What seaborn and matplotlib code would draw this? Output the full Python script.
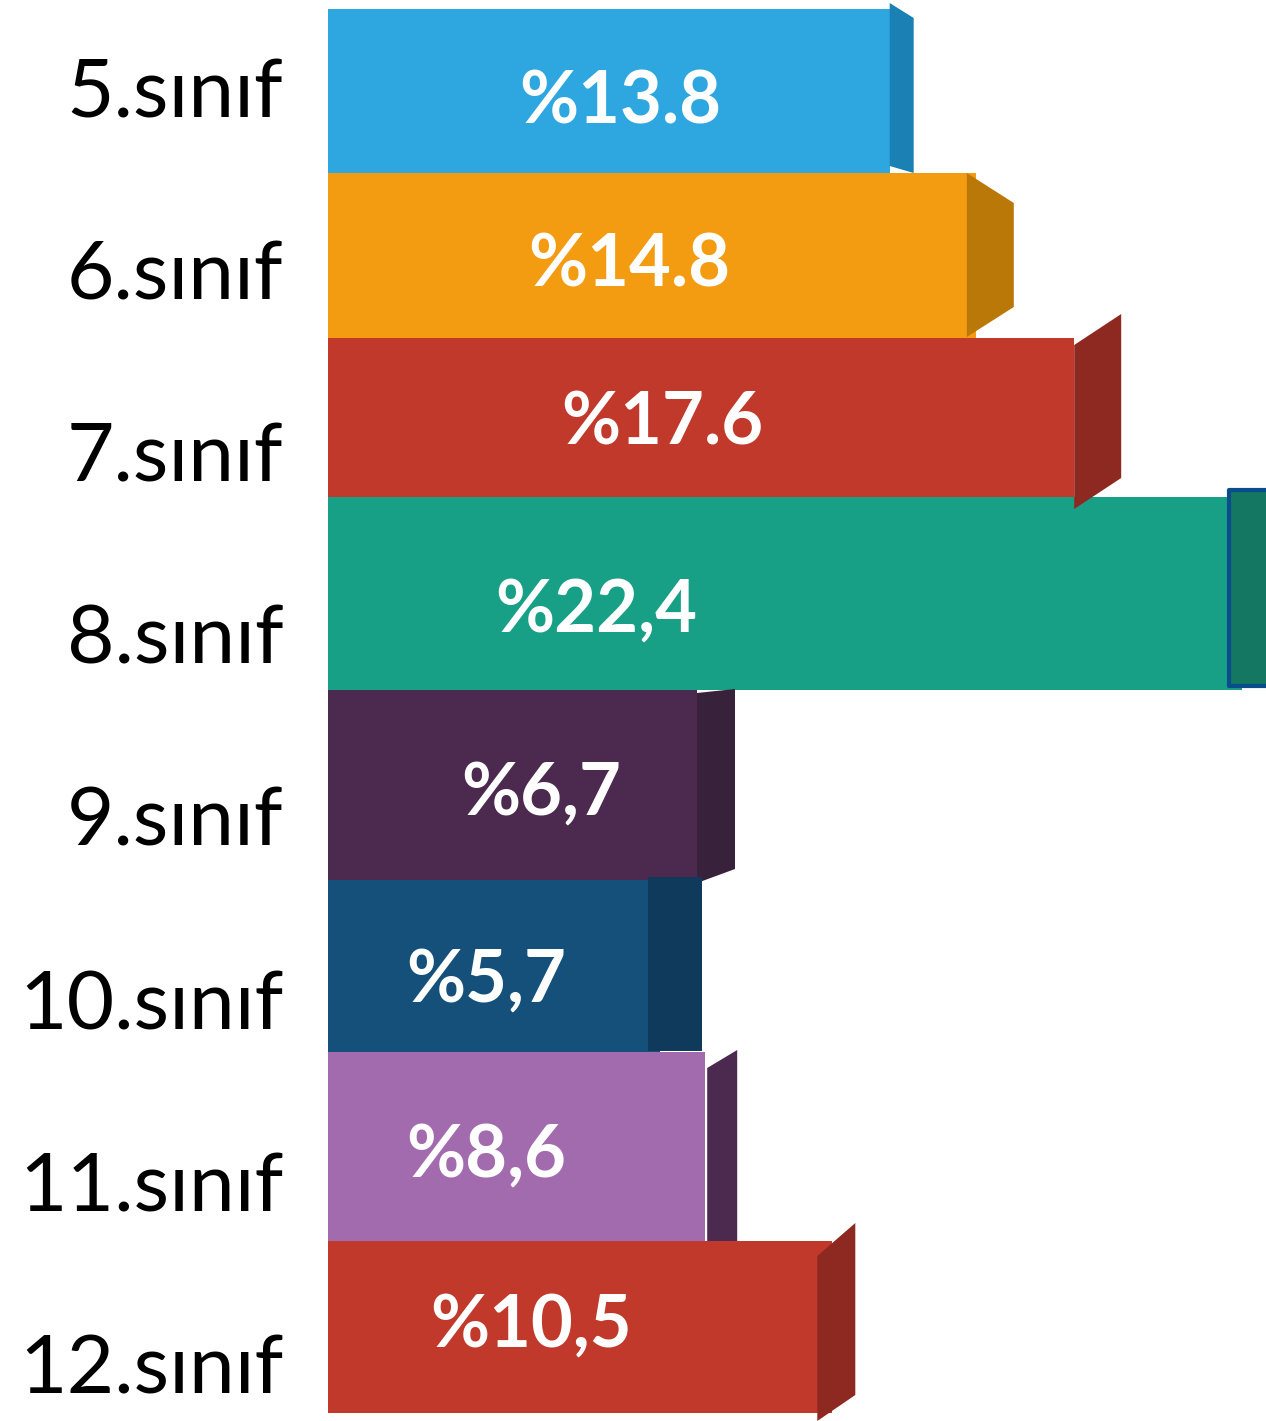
import matplotlib
matplotlib.use("Agg")
import matplotlib.pyplot as plt
from matplotlib.patches import Polygon
import seaborn as sns
import pandas as pd

# veriler
siniflar = ["5.sınıf", "6.sınıf", "7.sınıf", "8.sınıf", "9.sınıf", "10.sınıf", "11.sınıf", "12.sınıf"]
etiketler = ["%13.8", "%14.8", "%17.6", "%22,4", "%6,7", "%5,7", "%8,6", "%10,5"]
# resimdeki çubuk boyları (değerlerle orantılı değil)
bar_boyu = [13.7, 15.8, 18.2, 22.3, 9.0, 8.1, 9.2, 12.3]
renkler = ["#2EA7E0", "#F39C12", "#C0392B", "#17A085", "#4C2A4F", "#15507A", "#A26BAD", "#C0392B"]
yan_renkler = ["#1B80B3", "#BA7809", "#8E2921", "#137762", "#38223B", "#103A5C", "#4C2A4F", "#8E2921"]

df = pd.DataFrame({"sinif": siniflar, "boy": bar_boyu})

# yerleşim (piksel)
PX_X = 41.0      # x biriminde piksel
PX_Y = 175.5     # satır başına piksel
TOP = 9
satir_kenar = [9, 173, 338, 497, 690, 880, 1052, 1241, 1413]
etiket_y = [87, 270, 451, 633, 815, 999, 1181, 1363]
yazi_oran = [0.52, 0.465, 0.448, 0.293, 0.577, 0.476, 0.42, 0.403]
yazi_dy = [5, 4, 0, 11, 3, 9, 3, -7]
# yan yüz: (dx0, derinlik, sol_ust, sol_alt, sag_ust, sag_alt) piksel
yan_yuz = [
    (0, 24, -6, -7, 9, 0),
    (-9, 47, 0, -1, 30, -31),
    (0, 47, 7, 12, -24, -19),
    (-13, 50, -7, -4, -7, -4),
    (0, 38, 3, 3, -1, -11),
    (-12, 54, -3, -1, -3, -1),
    (2, 30, 16, 0, -2, 0),
    (-15, 38, 15, 8, -18, -18),
]


def py(p):
    return (p - TOP) / PX_Y - 0.5


sns.set_style("white")
plt.rcParams["font.family"] = ["Lato", "DejaVu Sans"]

fig = plt.figure(figsize=(12.66, 14.21), dpi=100)
ax = fig.add_axes([328 / 1266, 0, 938 / 1266, 1])

sns.barplot(data=df, x="boy", y="sinif", hue="sinif", palette=renkler,
            orient="h", width=1, legend=False, ax=ax, saturation=1)

for i, p in enumerate(ax.patches):
    top, bot = satir_kenar[i], satir_kenar[i + 1]
    p.set_y(py(top))
    p.set_height(py(bot) - py(top))
    p.set_edgecolor("none")

    x_end = p.get_width()
    dx0, d, lt, lb, rt, rb = yan_yuz[i]
    x0 = x_end + dx0 / PX_X
    x1 = x0 + d / PX_X
    pts = [(x0, py(top + lt)), (x1, py(top + rt)), (x1, py(bot + rb)), (x0, py(bot + lb))]
    if i == 3:
        poly = Polygon(pts, closed=True, facecolor=yan_renkler[i], edgecolor="#0B4C8C",
                       linewidth=3, joinstyle="round", clip_on=False, zorder=3)
    else:
        poly = Polygon(pts, closed=True, facecolor=yan_renkler[i], edgecolor="none",
                       clip_on=False, zorder=3)
    ax.add_patch(poly)

    cy = py((top + bot) / 2 + yazi_dy[i])
    ax.text(x_end * yazi_oran[i], cy, etiketler[i], color="white", fontsize=52,
            fontweight="bold", ha="center", va="center_baseline", zorder=4)

ax.set_xlim(0, 938 / PX_X)
ax.set_ylim(py(1421), py(0))
ax.set_yticks([py(p) for p in etiket_y])
ax.set_yticklabels(siniflar, fontsize=59, color="black")
ax.tick_params(axis="y", length=0, pad=32)
ax.set_xticks([])
ax.set_xlabel("")
ax.set_ylabel("")
sns.despine(ax=ax, left=True, bottom=True)

fig.savefig("out.png", dpi=100)
